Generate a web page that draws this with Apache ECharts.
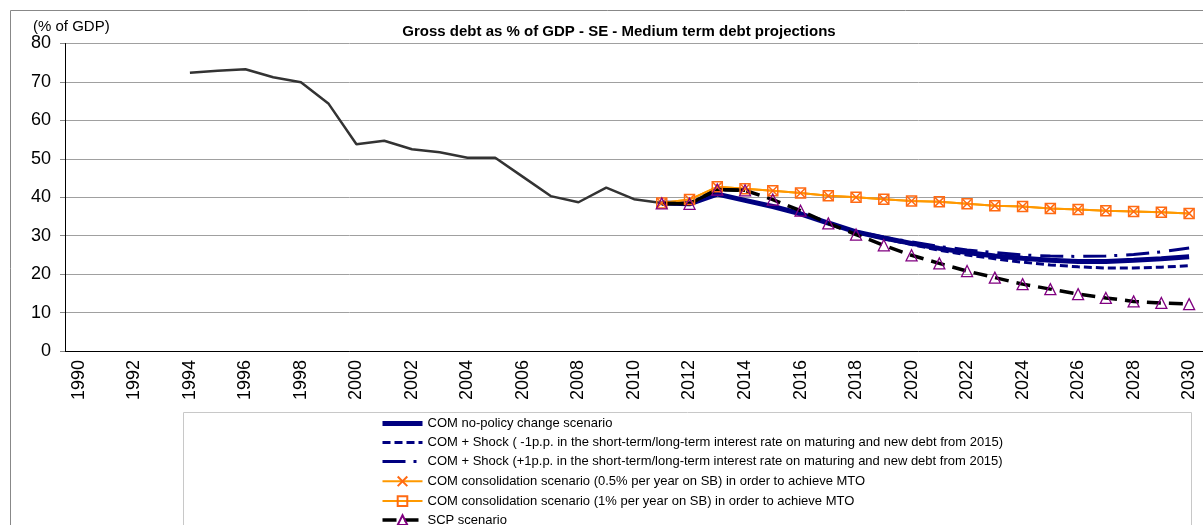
<!DOCTYPE html>
<html>
<head>
<meta charset="utf-8">
<script src="https://cdn.jsdelivr.net/npm/echarts@6/dist/echarts.min.js"></script>
<style>
html, body { margin: 0; padding: 0; background: #fff; }
#chart { width: 1203px; height: 525px; }
</style>
</head>
<body>
<div id="chart"></div>
<script>
var years = ['1990','1991','1992','1993','1994','1995','1996','1997','1998','1999',
             '2000','2001','2002','2003','2004','2005','2006','2007','2008','2009',
             '2010','2011','2012','2013','2014','2015','2016','2017','2018','2019',
             '2020','2021','2022','2023','2024','2025','2026','2027','2028','2029','2030'];

// 1990-2011 actuals
var actual = [null, null, null, null, 72.4, 72.9, 73.3, 71.2, 69.9, 64.3,
              53.8, 54.7, 52.5, 51.7, 50.3, 50.3, 45.3, 40.3, 38.7, 42.5,
              39.5, 38.5];

// projections 2011-2030
var comBase = [38.5, 38.3, 40.8, 39.2, 37.6, 35.7, 33.3, 31.0, 29.4, 28.0,
               26.7, 25.6, 24.7, 24.1, 23.6, 23.3, 23.3, 23.6, 24.0, 24.5];
var comLow  = [38.5, 38.3, 40.8, 39.2, 37.6, 35.7, 33.3, 30.9, 29.2, 27.7,
               26.2, 25.0, 24.0, 23.1, 22.4, 21.9, 21.6, 21.6, 21.8, 22.2];
var comHigh = [38.5, 38.3, 40.8, 39.2, 37.6, 35.7, 33.3, 31.1, 29.6, 28.4,
               27.2, 26.3, 25.6, 25.0, 24.7, 24.6, 24.7, 25.1, 25.8, 26.8];
var cons05  = [38.5, 39.4, 42.7, 42.2, 41.7, 41.1, 40.4, 40.0, 39.5, 39.0,
               38.8, 38.3, 37.8, 37.6, 37.1, 36.8, 36.5, 36.3, 36.1, 35.8];
var cons1   = [38.5, 39.4, 42.7, 42.2, 41.7, 41.1, 40.4, 40.0, 39.5, 39.0,
               38.8, 38.3, 37.8, 37.6, 37.1, 36.8, 36.5, 36.3, 36.1, 35.8];
var scp     = [38.4, 38.3, 42.0, 41.8, 39.4, 36.5, 33.2, 30.3, 27.5, 24.9,
               22.8, 20.8, 19.1, 17.4, 16.1, 14.8, 13.8, 12.9, 12.5, 12.2];

var names = ['COM no-policy change scenario',
             'COM + Shock ( -1p.p. in the short-term/long-term interest rate on maturing and new debt from 2015)',
             'COM + Shock (+1p.p. in the short-term/long-term interest rate on maturing and new debt from 2015)',
             'COM consolidation scenario (0.5% per year on SB) in order to achieve MTO',
             'COM consolidation scenario (1% per year on SB) in order to achieve MTO',
             'SCP scenario'];

var startIdx = years.indexOf('2011');
function proj(arr) {
    var out = [];
    for (var i = 0; i < years.length; i++) {
        out.push(i < startIdx ? null : arr[i - startIdx]);
    }
    return out;
}
// solid part of the SCP line (2011-2014)
var scpSolid = proj(scp).map(function (v, i) { return years[i] <= '2014' ? v : null; });

var navy = '#000080';
var lineStyles = [
    { color: navy, width: 5 },
    { color: navy, width: 3, type: [8, 4] },
    { color: navy, width: 3, type: [23, 8, 3, 9] },
    { color: '#ff9900', width: 2 },
    { color: '#ff9900', width: 2 },
    { color: '#000', width: 3.5, type: [14, 8] }
];

// legend entries: plain lines get no symbol in the icon
var legendData = names.map(function (n, i) {
    var item = { name: n, lineStyle: lineStyles[i] };
    if (i < 3) item.itemStyle = { opacity: 0 };
    return item;
});

var font = 'Arial, "Liberation Sans", sans-serif';
var mychart = echarts.init(document.getElementById('chart'));
var option = {
    animation: false,
    textStyle: { fontFamily: font },
    title: {
        text: 'Gross debt as % of GDP - SE - Medium term debt projections',
        left: 614, top: 19, textAlign: 'center',
        textStyle: { fontSize: 15, fontWeight: 'bold', color: '#000', fontFamily: font }
    },
    graphic: [
        { type: 'rect', shape: { x: 10.5, y: 10.5, width: 1220, height: 540 },
          style: { fill: 'none', stroke: '#888', lineWidth: 1 }, silent: true },
        { type: 'rect', shape: { x: 183.5, y: 412.5, width: 1008, height: 140 },
          style: { fill: 'none', stroke: '#c8c8c8', lineWidth: 1 }, silent: true },
        { type: 'text', left: 33, top: 19,
          style: { text: '(% of GDP)', fontSize: 15, fill: '#000', fontFamily: font } }
    ],
    legend: {
        orient: 'vertical',
        left: 380, top: 417, height: 200,
        padding: 0,
        itemWidth: 40, itemHeight: 12, itemGap: 6,
        data: legendData,
        textStyle: { fontSize: 13, color: '#000', fontFamily: font }
    },
    grid: { left: 65, right: -4, top: 43.5, bottom: 174, containLabel: false },
    xAxis: {
        type: 'category',
        data: years,
        boundaryGap: true,
        axisLine: { lineStyle: { color: '#000', width: 1 } },
        axisTick: { interval: 0, length: 5, lineStyle: { color: '#888' } },
        axisLabel: { interval: 1, rotate: 90, margin: 9, fontSize: 18, color: '#000', fontFamily: font }
    },
    yAxis: {
        type: 'value', min: 0, max: 80, interval: 10,
        axisLine: { show: true, lineStyle: { color: '#000', width: 1 } },
        axisTick: { show: true, length: 5, lineStyle: { color: '#888' } },
        axisLabel: { margin: 14, fontSize: 18, color: '#000', fontFamily: font },
        splitLine: { lineStyle: { color: '#a0a0a0', width: 1 } }
    },
    series: [
        { name: 'actual', type: 'line', data: actual, symbol: 'none',
          lineStyle: { color: '#333', width: 2.5 }, itemStyle: { color: '#333' } },
        { name: names[0], type: 'line', data: proj(comBase), symbol: 'none',
          lineStyle: lineStyles[0], itemStyle: { color: navy } },
        { name: names[1], type: 'line', data: proj(comLow), symbol: 'none',
          lineStyle: lineStyles[1], itemStyle: { color: navy } },
        { name: names[2], type: 'line', data: proj(comHigh), symbol: 'none',
          lineStyle: lineStyles[2], itemStyle: { color: navy } },
        { name: names[3], type: 'line', data: proj(cons05),
          symbol: 'path://M0,0L10,10M10,0L0,10', symbolSize: 9, showAllSymbol: true,
          lineStyle: lineStyles[3],
          itemStyle: { color: 'none', borderColor: '#ff6a13', borderWidth: 1.5 } },
        { name: names[4], type: 'line', data: proj(cons1),
          symbol: 'rect', symbolSize: 10, showAllSymbol: true,
          lineStyle: lineStyles[4],
          itemStyle: { color: 'rgba(0,0,0,0)', borderColor: '#ff6a13', borderWidth: 1.5 } },
        { name: 'scpSolid', type: 'line', data: scpSolid, symbol: 'none',
          lineStyle: { color: '#000', width: 3.5 }, itemStyle: { color: '#000' } },
        { name: names[5], type: 'line', data: proj(scp),
          symbol: 'triangle', symbolSize: 11, showAllSymbol: true,
          lineStyle: lineStyles[5],
          itemStyle: { color: 'rgba(0,0,0,0)', borderColor: '#800080', borderWidth: 1.3 } }
    ]
};
mychart.setOption(option);
</script>
</body>
</html>
